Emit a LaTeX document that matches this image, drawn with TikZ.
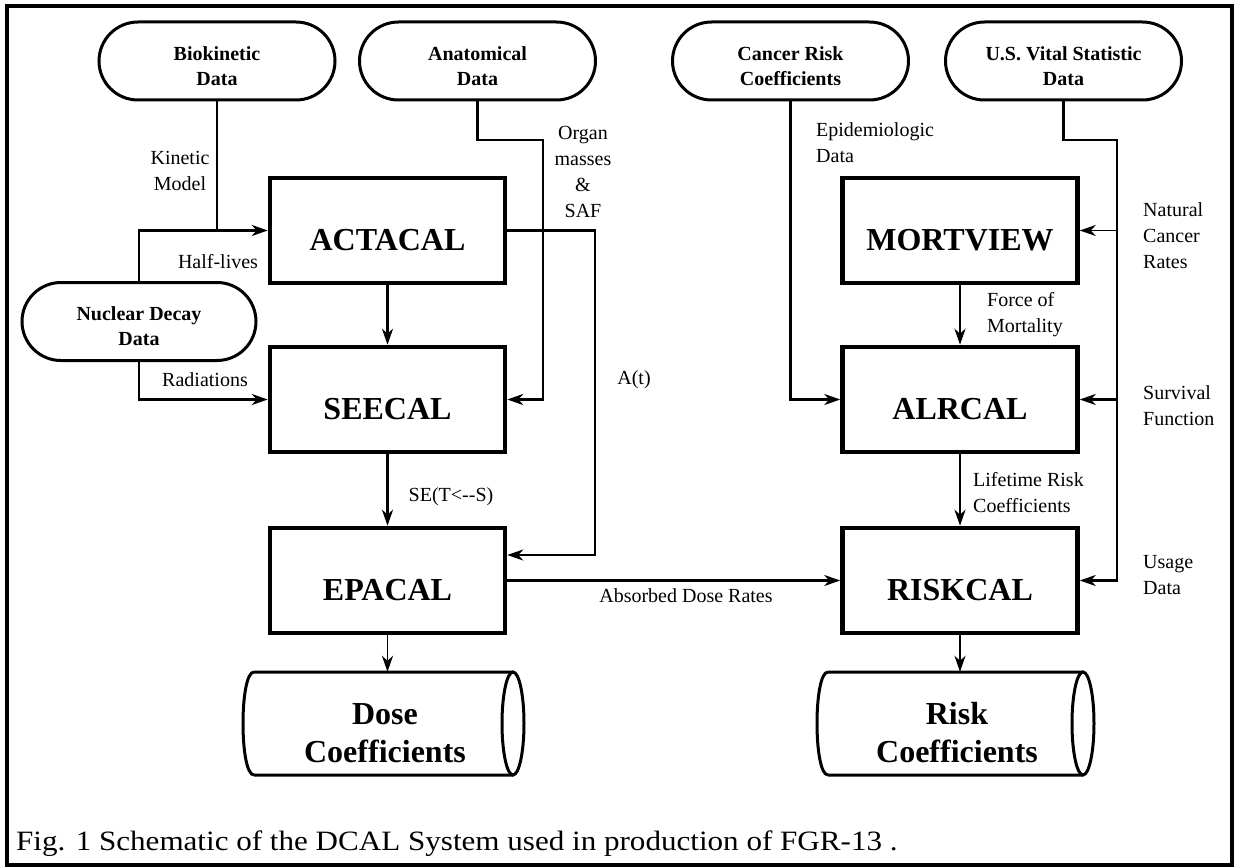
\documentclass[tikz,border=0pt]{standalone}
\usepackage{fontspec}
\setmainfont{Liberation Serif}
\usepackage{graphicx}
\usetikzlibrary{arrows.meta,calc}
\begin{document}
\begin{tikzpicture}[x=1pt,y=-1pt,
 term/.style={draw, line width=3pt, rounded corners=39pt, minimum width=236pt, minimum height=78pt, inner sep=0pt},
 termtxt/.style={font=\bfseries\fontsize{20}{25}\selectfont, align=center, inner sep=0pt},
 proc/.style={draw, line width=4.5pt, minimum width=235pt, minimum height=105pt, inner sep=0pt, font=\bfseries\fontsize{32}{38}\selectfont, text height=39pt, text depth=0pt},
 cylbox/.style={minimum height=103pt, inner sep=0pt},
 cylline/.style={line width=3pt},
 cyltxt/.style={font=\bfseries\fontsize{32}{38}\selectfont, align=center, inner sep=0pt},
 lab/.style={font=\fontsize{20}{26}\selectfont, inner sep=0pt},
 labl/.style={lab, align=left, anchor=west},
 labc/.style={lab, align=center},
 conn/.style={line width=2.7pt},
 thinconn/.style={line width=1.8pt},
 arr/.style={-{Stealth[length=16pt,width=11pt,inset=5pt]}},
]
\useasboundingbox (0,0) rectangle (1235,867);
\draw[line width=3.3pt] (7,6) rectangle (1232,865);

% terminators
\node[term] (bio) at (217,61) {};
\node[term] (anat) at (477.5,61) {};
\node[term] (canc) at (790.5,61) {};
\node[term] (vital) at (1063.5,61) {};
\node[term, minimum width=234pt] (nuc) at (139,321.5) {};
\node[termtxt] (biot) at (217,65.7) {Biokinetic\\Data};
\node[termtxt] (anatt) at (477.5,65.7) {Anatomical\\Data};
\node[termtxt] (canct) at (790.5,65.7) {Cancer Risk\\Coefficients};
\node[termtxt] (vitalt) at (1063.5,65.7) {U.S. Vital Statistic\\Data};
\node[termtxt] (nuct) at (139,325.7) {Nuclear Decay\\Data};

% process boxes
\node[proc] (act) at (387.5,230.5) {ACTACAL};
\node[proc] (see) at (387.5,399.5) {SEECAL};
\node[proc] (epa) at (387.5,580.5) {EPACAL};
\node[proc] (mort) at (960,230.5) {MORTVIEW};
\node[proc] (alr) at (960,399.5) {ALRCAL};
\node[proc] (risk) at (960,580.5) {RISKCAL};

% cylinders
\node[cylbox, minimum width=281pt] (dose) at (383.5,723.5) {};
\node[cylbox, minimum width=277pt] (riskc) at (955.5,723.5) {};
\draw[cylline] (254,672) -- (513,672) (513,775) -- (254,775)
  (254,672) .. controls (239.33,672) and (239.33,775) .. (254,775);
\draw[cylline] (513,723.5) ellipse [x radius=11, y radius=51.5];
\draw[cylline] (828,672) -- (1083,672) (1083,775) -- (828,775)
  (828,672) .. controls (813.33,672) and (813.33,775) .. (828,775);
\draw[cylline] (1083,723.5) ellipse [x radius=11, y radius=51.5];
\node[cyltxt] (doset) at (385,733) {Dose\\Coefficients};
\node[cyltxt] (riskct) at (957,733) {Risk\\Coefficients};

% connectors left
\draw[conn] (bio.south) -- (bio.south |- act.west);
\draw[conn,arr] (nuc.north) |- (act.west);
\draw[conn,arr] (nuc.south) |- (see.west);
\coordinate (a1) at (543,140);
\draw[conn,arr] (anat.south) |- (a1) |- (see.east);
\coordinate (a2) at (595,555);
\draw[conn,arr] (act.east) -| (a2) -- (a2 -| epa.east);
\draw[conn,arr] (act.south) -- (see.north);
\draw[conn,arr] (see.south) -- (epa.north);
\draw[conn,arr] (epa.east) -- (risk.west);
\draw[thinconn,arr] (epa.south) -- (epa.south |- dose.north);
\draw[thinconn,arr] (risk.south) -- (risk.south |- riskc.north);

% connectors right
\draw[conn,arr] (canc.south) |- (alr.west);
\draw[conn,arr] (mort.south) -- (alr.north);
\draw[conn,arr] (alr.south) -- (risk.north);
\coordinate (v1) at (1117,140);
\draw[conn,arr] (vital.south) |- (v1) |- (risk.east);
\draw[thinconn,arr] (v1 |- mort.east) -- (mort.east);
\draw[conn,arr] (v1 |- alr.east) -- (alr.east);

% labels
\node[labc] (kin) at (180,171) {Kinetic\\Model};
\node[labc] (half) at (218,262) {Half-lives};
\node[labc] (rad) at (205,380) {Radiations};
\node[labc] (organ) at (583,171.7) {Organ\\masses\\\&\\SAF};
\node[labc] (at) at (634,380) {A(t)};
\node[labc] (se) at (451,497) {SE(T<{}-{}-S)};
\node[labc] (abs) at (686,596) {Absorbed Dose Rates};
\node[labl] (epi) at (816,143) {Epidemiologic\\Data};
\node[labl] (nat) at (1143,235.7) {Natural\\Cancer\\Rates};
\node[labl] (force) at (987,314.8) {Force of\\Mortality};
\node[labl] (surv) at (1143,405.7) {Survival\\Function};
\node[labl] (life) at (973,493) {Lifetime Risk\\Coefficients};
\node[labl] (usage) at (1143,574.8) {Usage\\Data};

% caption
\node[anchor=base west, inner sep=0pt, font=\fontsize{28}{34}\selectfont] (cap) at (16,850)
  {\scalebox{1.11}[1]{Fig. 1 Schematic of the DCAL System used in production of FGR-13 .}};
\end{tikzpicture}
\end{document}
